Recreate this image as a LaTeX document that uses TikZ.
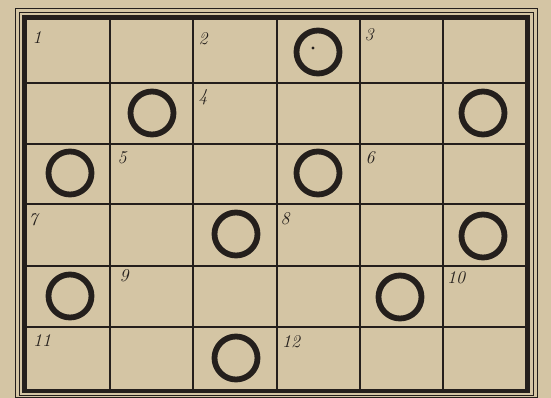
\documentclass[tikz,border=0pt]{standalone}
\usepackage{tikz}
\usetikzlibrary{positioning}

\definecolor{paper}{RGB}{212,197,164}
\definecolor{ink}{RGB}{36,31,28}

\begin{document}
\begin{tikzpicture}[
    x=1pt, y=-1pt,
    frame/.style={draw=ink, line width=4.8pt},
    thinframe/.style={draw=ink, line width=0.8pt},
    gridline/.style={draw=ink, line width=1.3pt},
    ring/.style={draw=ink, line width=5.8pt},
    num/.style={text=ink, font=\fontsize{18}{18}\selectfont\itshape, inner sep=0pt}
  ]

  % ============ PAPER ============
  \fill[paper] (0,0) rectangle (551,398);
  \useasboundingbox (0,0) rectangle (551,398);

  % ============ FRAME ============
  \draw[thinframe] (15.5,8) rectangle (537,397);
  \draw[thinframe] (19.5,12) rectangle (533,395);
  \draw[frame] (24.5,17.5) rectangle (527.5,391);

  % ============ GRID ============
  % Columns
  \foreach \cx in {110,193,277,360,443}
    \draw[gridline] (\cx,17.5) -- (\cx,391);
  % Rows
  \foreach \cy in {83,144,204,266,327}
    \draw[gridline] (24.5,\cy) -- (527.5,\cy);

  % ============ RINGS ============
  \foreach \rx/\ry in {318/52, 152/113, 483/113, 70/173, 318/173,
      236/234, 483/236, 70/296, 400/297, 236/358}
    \draw[ring] (\rx,\ry) circle (21.5);
  \fill[ink] (313,48) circle (1.6);

  % ============ NUMBERS ============
  \foreach \n/\px/\py in {1/37/38, 2/203/39, 3/369/35, 4/203/97, 5/122/158,
      6/370/158, 7/33/220, 8/285/219, 9/124/276, 10/456/278, 11/42/341, 12/291/342}
    \node[num] (n\n) at (\px,\py) {\n};

\end{tikzpicture}
\end{document}
